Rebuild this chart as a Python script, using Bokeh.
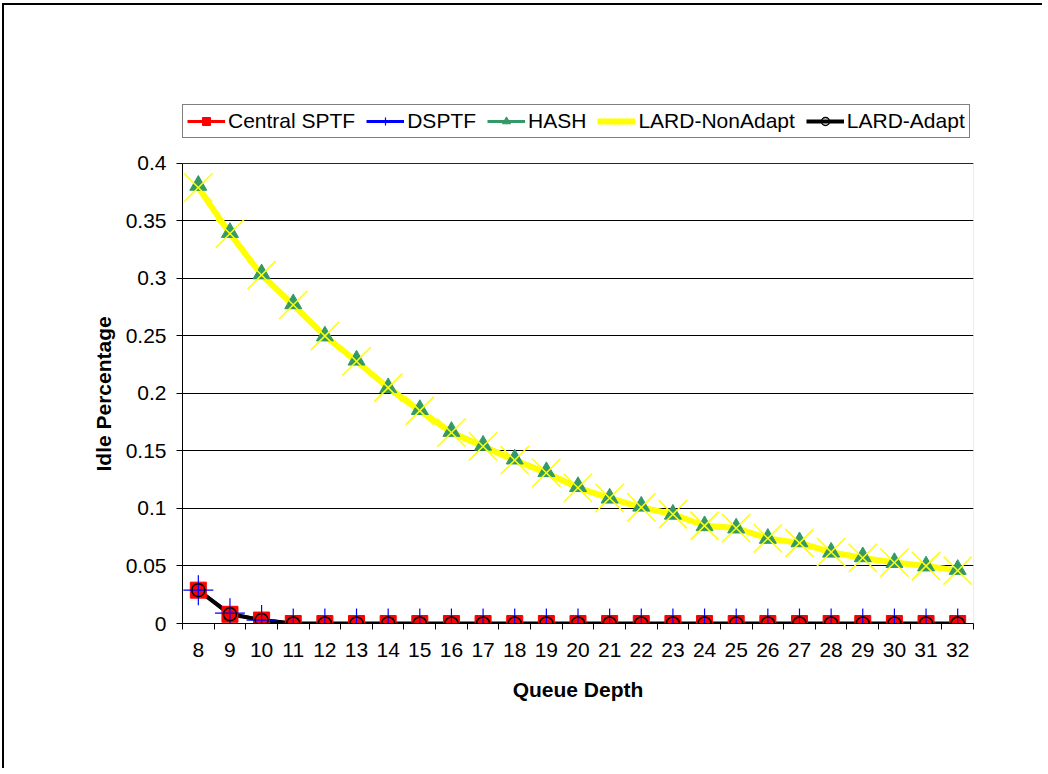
from bokeh.plotting import figure
from bokeh.models import (FixedTicker, NumeralTickFormatter, Legend, LegendItem,
                          BoxAnnotation, Title)
from bokeh.embed import file_html
from bokeh.resources import INLINE

# Idle percentage per queue depth for each scheduling policy
queue_depth = list(range(8, 33))
central_sptf = [0.029, 0.008, 0.003, 0, 0, 0, 0, 0, 0, 0, 0, 0, 0,
                0, 0, 0, 0, 0, 0, 0, 0, 0, 0, 0, 0]
dsptf = [0.029, 0.009, 0.003, 0, 0, 0, 0, 0, 0, 0, 0, 0, 0,
         0, 0, 0, 0, 0, 0, 0, 0, 0, 0, 0, 0]
hash_idle = [0.381, 0.340, 0.304, 0.278, 0.250, 0.229, 0.205, 0.186, 0.167,
             0.155, 0.143, 0.132, 0.119, 0.109, 0.102, 0.095, 0.085, 0.083,
             0.074, 0.071, 0.062, 0.058, 0.053, 0.050, 0.047]
lard_nonadapt = [0.379, 0.339, 0.303, 0.277, 0.250, 0.228, 0.205, 0.185,
                 0.166, 0.154, 0.142, 0.131, 0.118, 0.109, 0.101, 0.095,
                 0.085, 0.083, 0.074, 0.070, 0.062, 0.057, 0.053, 0.050,
                 0.046]
lard_adapt = [0.029, 0.008, 0.003, 0, 0, 0, 0, 0, 0, 0, 0, 0, 0,
              0, 0, 0, 0, 0, 0, 0, 0, 0, 0, 0, 0]
y_ticks = [0, 0.05, 0.1, 0.15, 0.2, 0.25, 0.3, 0.35, 0.4]

FONT = "Liberation Sans"

# The frame reaches up to hold the legend; the plot area itself is 0..0.4
p = figure(width=1040, height=765, output_backend="svg", toolbar_location=None,
           x_range=(7.5, 32.5), y_range=(0, 0.4513),
           min_border_left=178, min_border_right=71,
           min_border_top=99, min_border_bottom=147)
p.styles = {"border-top": "2px solid black", "border-left": "2px solid black",
            "border-right": "none", "border-bottom": "none",
            "margin-left": "2px", "margin-top": "3px"}

p.background_fill_color = "white"
p.border_fill_color = "white"
p.outline_line_color = None

# Horizontal gridlines only
p.xgrid.grid_line_color = None
p.ygrid.grid_line_color = "black"
p.ygrid.grid_line_width = 1
p.ygrid.ticker = FixedTicker(ticks=y_ticks)

# Border of the plot area
p.add_layout(BoxAnnotation(left=queue_depth[0] - 0.5, right=queue_depth[-1] + 0.5,
                           bottom=y_ticks[0], top=y_ticks[-1],
                           fill_alpha=0, line_color="#808080", line_width=1,
                           level="underlay"))

# Category-style x axis: labels at centres, ticks between categories
xa = p.xaxis[0]
xa.ticker = FixedTicker(ticks=queue_depth,
                        minor_ticks=[q - 0.5 for q in queue_depth] + [32.5])
xa.major_tick_line_color = None
xa.minor_tick_line_color = "black"
xa.minor_tick_out = 6
xa.minor_tick_in = 0
xa.axis_line_color = "black"
xa.axis_line_width = 1
xa.major_label_standoff = 13
xa.major_label_text_font = FONT
xa.major_label_text_font_size = "21px"
xa.major_label_text_color = "black"
xa.axis_label = "Queue Depth"
xa.axis_label_text_font = FONT
xa.axis_label_text_font_size = "21px"
xa.axis_label_text_font_style = "bold"
xa.axis_label_text_color = "black"
xa.axis_label_standoff = 18

ya = p.yaxis[0]
ya.bounds = (y_ticks[0], y_ticks[-1])
ya.ticker = FixedTicker(ticks=y_ticks)
ya.formatter = NumeralTickFormatter(format="0.[00]")
ya.major_tick_line_color = "black"
ya.major_tick_out = 6
ya.major_tick_in = 0
ya.minor_tick_line_color = None
ya.axis_line_color = "black"
ya.axis_line_width = 1
ya.major_label_standoff = 10
ya.major_label_text_font = FONT
ya.major_label_text_font_size = "21px"
ya.major_label_text_color = "black"

# y axis title, centred on the 0..0.4 plot area
p.add_layout(Title(text="Idle Percentage", align="left", offset=152,
                   text_font=FONT, text_font_size="21px", text_font_style="bold",
                   text_color="black", standoff=16), "left")

series = [
    ("Central SPTF", central_sptf, "#FF0000", 3,
     dict(marker="square", size=16, fill_color="#FF0000", line_color="#FF0000", line_width=1)),
    ("DSPTF", dsptf, "#0000FF", 3,
     dict(marker="cross", size=30, fill_color=None, line_color="#0000FF", line_width=1.2)),
    ("HASH", hash_idle, "#339966", 3,
     dict(marker="triangle", size=17, fill_color="#339966", line_color="#339966", line_width=1)),
    ("LARD-NonAdapt", lard_nonadapt, "#FFFF00", 6,
     dict(marker="x", size=40, fill_color=None, line_color="#FFFF00", line_width=1.5)),
    ("LARD-Adapt", lard_adapt, "black", 4,
     dict(marker="circle", size=13, fill_color=None, line_color="black", line_width=1.5)),
]

# All connecting lines first, then markers on top
line_rs = []
for name, vals, color, lw, _ in series:
    line_rs.append(p.line(queue_depth, vals, line_color=color, line_width=lw))
marker_rs = []
for name, vals, color, lw, mk in series:
    marker_rs.append(p.scatter(queue_depth, vals, **mk))

items = [LegendItem(label=s[0], renderers=[lr, mr])
         for s, lr, mr in zip(series, line_rs, marker_rs)]
legend = Legend(items=items, orientation="horizontal",
                location="top_left",
                label_text_font=FONT, label_text_font_size="21px",
                label_text_color="black",
                glyph_width=38, glyph_height=20, label_height=20,
                label_standoff=3, spacing=11, padding=4, margin=0,
                border_line_color="black", border_line_width=1,
                background_fill_color="white", background_fill_alpha=1)
p.add_layout(legend, "center")

open("out.html", "w").write(file_html(p, INLINE))
